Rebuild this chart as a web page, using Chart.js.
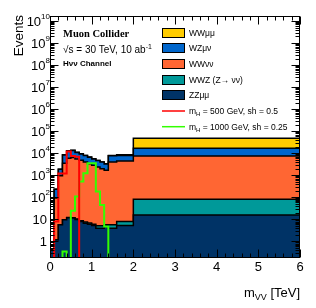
<!DOCTYPE html>
<html>
<head>
<meta charset="utf-8">
<script src="https://cdn.jsdelivr.net/npm/chart.js@4.4.0/dist/chart.umd.min.js"></script>
<style>
  html, body { margin: 0; padding: 0; background: #fff; }
  #grafico { display: block; }
</style>
</head>
<body>
<canvas id="grafico" width="316" height="308"></canvas>
<script>
// bordas dos bins em TeV
const binEdges = [0, 0.1, 0.2, 0.3, 0.4, 0.5, 0.6, 0.7, 0.8, 0.9, 1.0, 1.1, 1.2, 1.3, 1.4, 1.6, 2.0, 6.0];

// fundos, eventos por bin (ordem da pilha: de baixo para cima)
const zzMuMu  = [0.4, 1.2, 5.7, 9.6, 12, 11.5, 10, 8, 6.8, 6, 5.3, 4, 4, 5, 4, 5.3, 16];
const wwzNuNu = [0, 0, 0.1, 0.2, 0.3, 0.5, 0.6, 0.8, 0.8, 0.9, 0.8, 1.2, 1.2, 0.8, 1.7, 2.8, 67];
const wwNuNu  = [0, 92, 944, 3550, 5990, 6490, 5490, 4790, 3990, 3390, 2890, 2395, 1995, 1694, 3994, 4492, 7517];
const wzMuNu  = [0, 142, 950, 4940, 7000, 7000, 5500, 4600, 3900, 3300, 2700, 2300, 2000, 1600, 3800, 3500, 9400];
const wwMuMu  = [0, 1, 10, 50, 100, 100, 100, 100, 100, 100, 100, 50, 50, 50, 100, 600, 31000];

// sinais
const sigH500  = [0, 8, 1200, 1200, 12000, 7500, 7000, 0, 0, 0, 0, 0, 0, 0, 0, 0, 0];
const sigH1000 = [0, 0, 0, 0.35, 0, 25, 110, 520, 1250, 3500, 3500, 185, 45, 4.8, 0, 0, 0];

const xTickLabels = [0, 1, 2, 3, 4, 5, 6];
const yDecades = [0, 1, 2, 3, 4, 5, 6, 7, 8, 9, 10];
const yMin = 0.178;
const yMax = 1.7e10;

const FONTE = '"Liberation Sans", Arial, sans-serif';

// pontos de um histograma em degraus
function histPoints(values, closed) {
  const n = binEdges.length - 1;
  const pts = [];
  if (closed) pts.push({ x: binEdges[0], y: yMin });
  values.forEach((v, i) => pts.push({ x: binEdges[i], y: Math.max(v, yMin) }));
  pts.push({ x: binEdges[n], y: Math.max(values[n - 1], yMin) });
  if (closed) pts.push({ x: binEdges[n], y: yMin });
  return pts;
}

// soma acumulada para a pilha
const pilha = [
  { label: 'ZZμμ', data: zzMuMu, cor: '#003366' },
  { label: 'WWZ', data: wwzNuNu, cor: '#009999' },
  { label: 'WWνν', data: wwNuNu, cor: '#ff6633' },
  { label: 'WZμν', data: wzMuNu, cor: '#0066cc' },
  { label: 'WWμμ', data: wwMuMu, cor: '#ffcc00' }
];
let soma = wwMuMu.map(() => 0);
const stackDatasets = pilha.map(p => {
  soma = soma.map((s, i) => s + p.data[i]);
  return {
    label: p.label,
    data: histPoints(soma, true),
    stepped: 'before',
    fill: 'start',
    backgroundColor: p.cor,
    borderColor: '#000',
    borderWidth: 1.5,
    pointRadius: 0
  };
});

const signalDatasets = [
  { label: 'H500', data: histPoints(sigH500, false), stepped: 'before', fill: false,
    borderColor: '#ff0000', borderWidth: 2, pointRadius: 0 },
  { label: 'H1000', data: histPoints(sigH1000, false), stepped: 'before', fill: false,
    borderColor: '#33ff00', borderWidth: 2, pointRadius: 0 }
];

// escreve texto com partes (sub/sobrescritos)
function textoComposto(ctx, partes, x, y, align) {
  let largura = 0;
  partes.forEach(p => {
    ctx.font = (p.bold ? 'bold ' : '') + p.size + 'px ' + (p.fam || FONTE);
    p.w = ctx.measureText(p.t).width;
    largura += p.w;
  });
  let cx = align === 'right' ? x - largura : x;
  ctx.textAlign = 'left';
  ctx.textBaseline = 'alphabetic';
  partes.forEach(p => {
    ctx.font = (p.bold ? 'bold ' : '') + p.size + 'px ' + (p.fam || FONTE);
    ctx.fillText(p.t, cx, y + (p.dy || 0));
    cx += p.w;
  });
}

const decoracao = {
  id: 'decoracao',
  afterDraw(chart) {
    const ctx = chart.ctx;
    const { left, right, top, bottom } = chart.chartArea;
    const xs = chart.scales.x;
    const ys = chart.scales.y;
    const L = Math.round(left) + 0.5, R = Math.round(right) - 0.5;
    const T = Math.round(top) + 0.5, B = Math.round(bottom) - 0.5;
    ctx.save();
    ctx.strokeStyle = '#000';
    ctx.lineWidth = 1;
    ctx.strokeRect(L, T, R - L, B - T);

    // ticks do eixo x (dentro)
    ctx.beginPath();
    for (let i = 0; i <= 30; i++) {
      const px = Math.round(xs.getPixelForValue(i / 5)) + 0.5;
      const len = i % 5 === 0 ? 8 : 4;
      ctx.moveTo(px, B); ctx.lineTo(px, B - len);
      ctx.moveTo(px, T); ctx.lineTo(px, T + len);
    }
    // ticks do eixo y (log)
    for (let n = -1; n <= 10; n++) {
      for (let k = 1; k <= 9; k++) {
        const v = k * Math.pow(10, n);
        if (v < yMin || v > yMax) continue;
        const py = Math.round(ys.getPixelForValue(v)) + 0.5;
        const len = k === 1 ? 8 : 4;
        ctx.moveTo(L, py); ctx.lineTo(L + len, py);
        ctx.moveTo(R, py); ctx.lineTo(R - len, py);
      }
    }
    ctx.stroke();

    ctx.fillStyle = '#000';
    // rotulos x
    ctx.font = '13px ' + FONTE;
    ctx.textAlign = 'center';
    ctx.textBaseline = 'alphabetic';
    xTickLabels.forEach(v => ctx.fillText(String(v), xs.getPixelForValue(v), 271));

    // rotulos y
    yDecades.forEach(n => {
      const py = ys.getPixelForValue(Math.pow(10, n));
      if (n === 0) textoComposto(ctx, [{ t: '1', size: 13 }], 47, py + 4.5, 'right');
      else if (n === 1) textoComposto(ctx, [{ t: '10', size: 13 }], 47, py + 4.5, 'right');
      else textoComposto(ctx, [{ t: '10', size: 13 }, { t: String(n), size: 8, dy: -6.5 }], 50, py + 4.5, 'right');
    });

    // titulos dos eixos
    textoComposto(ctx, [{ t: 'm', size: 13 }, { t: 'VV', size: 9, dy: 3 }, { t: ' [TeV]', size: 13 }], 300, 296.5, 'right');
    ctx.save();
    ctx.translate(23, 15);
    ctx.rotate(-Math.PI / 2);
    ctx.font = '13.5px ' + FONTE;
    ctx.textAlign = 'right';
    ctx.textBaseline = 'alphabetic';
    ctx.fillText('Events', 0, 0);
    ctx.restore();

    // textos do canto
    textoComposto(ctx, [{ t: 'Muon Collider', size: 10.5, bold: true, fam: '"Liberation Serif", "Times New Roman", serif' }], 63, 37, 'left');
    textoComposto(ctx, [{ t: '√s = 30 TeV, 10 ab', size: 10 }, { t: '-1', size: 7, dy: -4 }], 63, 53, 'left');
    textoComposto(ctx, [{ t: 'Hνν Channel', size: 8, bold: true }], 63, 66, 'left');

    // legenda
    const legY0 = 32.5, legDy = 15.7, boxX = 162, boxW = 23, boxH = 10, textX = 189;
    const entradas = [
      { cor: '#ffcc00', partes: [{ t: 'WWμμ', size: 8.5 }] },
      { cor: '#0066cc', partes: [{ t: 'WZμν', size: 8.5 }] },
      { cor: '#ff6633', partes: [{ t: 'WWνν', size: 8.5 }] },
      { cor: '#009999', partes: [{ t: 'WWZ (Z→ νν)', size: 8.5 }] },
      { cor: '#003366', partes: [{ t: 'ZZμμ', size: 8.5 }] },
      { linha: '#ff0000', partes: [{ t: 'm', size: 8.5 }, { t: 'H', size: 6, dy: 2 }, { t: ' = 500 GeV, sh = 0.5', size: 8.5 }] },
      { linha: '#33ff00', partes: [{ t: 'm', size: 8.5 }, { t: 'H', size: 6, dy: 2 }, { t: ' = 1000 GeV, sh = 0.25', size: 8.5 }] }
    ];
    entradas.forEach((e, i) => {
      const cy = legY0 + i * legDy;
      if (e.cor) {
        ctx.fillStyle = e.cor;
        ctx.fillRect(boxX, Math.round(cy - boxH / 2), boxW, boxH);
        ctx.strokeStyle = '#000';
        ctx.lineWidth = 1;
        ctx.strokeRect(boxX + 0.5, Math.round(cy - boxH / 2) + 0.5, boxW - 1, boxH - 1);
      } else {
        ctx.strokeStyle = e.linha;
        ctx.lineWidth = 1.5;
        ctx.beginPath();
        ctx.moveTo(boxX, cy); ctx.lineTo(boxX + boxW, cy);
        ctx.stroke();
      }
      ctx.fillStyle = '#000';
      textoComposto(ctx, e.partes, textX, cy + 3, 'left');
    });
    ctx.restore();
  }
};

const ctx = document.getElementById('grafico').getContext('2d');
new Chart(ctx, {
  type: 'line',
  data: { datasets: signalDatasets.concat(stackDatasets) },
  options: {
    responsive: false,
    animation: false,
    events: [],
    devicePixelRatio: 1,
    layout: { padding: { left: 50, right: 16, top: 16, bottom: 50 } },
    scales: {
      x: { type: 'linear', min: 0, max: 6, display: false },
      y: { type: 'logarithmic', min: yMin, max: yMax, display: false }
    },
    plugins: {
      legend: { display: false },
      tooltip: { enabled: false }
    }
  },
  plugins: [decoracao]
});
</script>
</body>
</html>
